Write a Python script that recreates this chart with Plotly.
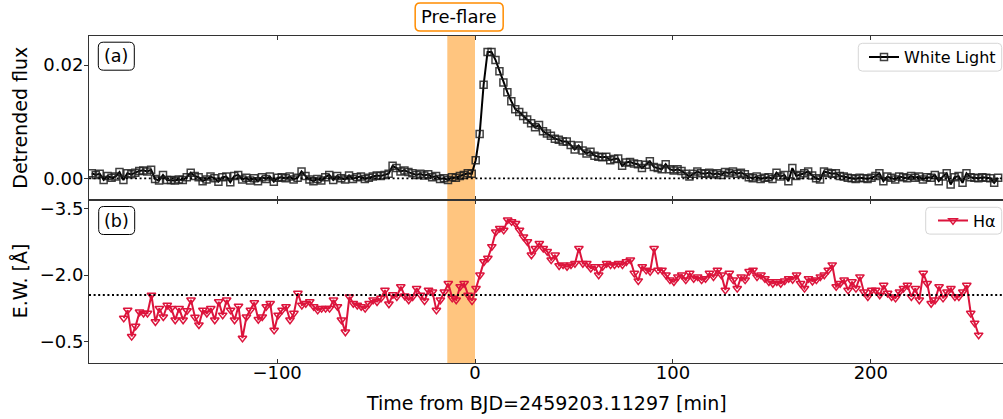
import plotly.graph_objects as go
from plotly.subplots import make_subplots
import numpy as np

# ---------------- data ----------------
wl_t0 = -193.65      # first white-light time [min]
wl_cadence = 2.0     # [min]
# detrended white-light flux, in units of 1e-3
wl_flux_1e3 = [
    0.9, 0.6, 0.8, -0.3, 0.4, 0.1, 0.3, 1.1, -0.3, 0.9,
    0.7, 1.0, 1.3, 1.4, 1.2, 1.5, -0.1, -0.4, 0.6, -0.3,
    -0.3, -0.4, -0.2, -0.3, 0.2, 1.0, 0.4, 0.2, -0.5, -0.2,
    0.3, 0.0, -0.6, 0.2, 0.3, -0.7, 0.4, 0.6, -0.2, 0.1,
    -0.4, 0.0, -0.5, 0.2, -0.1, 0.3, -0.6, 0.1, 0.2, 0.0,
    0.3, -0.2, 0.1, 1.2, 0.4, -0.2, -0.5, -0.1, -0.4, 0.2,
    0.6, -0.3, 0.4, 0.0, -0.2, 0.5, -0.1, 0.2, 0.3, -0.1,
    0.1, 0.3, 0.5, 0.4, 0.6, 0.8, 2.2, 1.8, 1.2, 1.4,
    1.1, 0.9, 0.6, 0.8, 0.5, 0.7, 0.2, 0.4, -0.1, 0.0,
    -0.3, 0.2, 0.1, 0.4, 0.6, 0.9, 0.8,
    3.2, 7.8, 16.5, 22.3, 22.3, 20.9, 18.9, 16.9, 15.2, 13.6,
    12.2, 11.7, 11.0, 10.4, 9.7, 9.0, 9.4, 8.3, 7.9, 7.5,
    7.0, 6.8, 6.5, 6.5, 5.9, 5.1, 5.8, 4.9, 4.4, 4.7,
    4.0, 3.8, 3.7, 3.8, 3.2, 3.4, 3.5, 2.2, 2.8, 2.9,
    2.6, 2.5, 1.8, 2.4, 3.0, 2.0, 1.8, 1.6, 2.5, 1.6,
    1.4, 1.6, 1.3, 0.8, 0.3, 0.8, 1.2,
    0.9, 0.8, 1.0, 0.7, 0.9, 0.6, 1.1, 0.9, 1.2, 0.8,
    1.0, 0.7, 0.2, 0.0, 0.3, -0.1, 0.1, 0.2, -0.1, 1.0,
    0.3, 0.6, -0.5, 1.8, 0.4, 0.6, 0.9, 1.2, 0.5, 0.0,
    -0.2, 1.2, 1.0, 0.8, 0.9, 0.4, 0.3, 0.1, 0.0, -0.1,
    0.1, 0.0, -0.1, 0.1, 0.4, 0.9, -0.5, 0.3, 0.1, -0.2,
    0.3, 0.2, 0.0, 0.4, 0.1, 0.3, -0.2, 0.2, 0.1, 0.6,
    -0.5, 0.3, 0.9, -1.1, 0.2, 0.4, -0.8, 0.9, 0.2, 0.1,
    0.0, 0.2, 0.1, 0.0, -0.8, 0.1,
]

ha_t0 = -177.5       # first H-alpha time [min]
ha_cadence = 2.0     # [min]
# H-alpha equivalent width [Angstrom]
ha_ew = [
    -1.03, -1.21, -0.62, -0.85, -1.17, -1.14, -1.14, -1.55, -0.95, -1.25,
    -1.06, -1.32, -1.25, -0.99, -1.25, -0.99, -1.20, -1.44, -1.05, -0.88,
    -1.21, -1.14, -1.25, -0.99, -1.40, -1.10, -1.44, -1.21, -0.99, -1.30,
    -0.58, -1.06, -1.21, -1.38, -1.00, -1.06, -1.29, -1.36, -0.76, -1.10,
    -1.21, -1.29, -0.99, -1.14, -1.59, -1.32, -1.36, -1.40, -1.29, -1.21,
    -1.25, -1.25, -1.25, -1.44, -1.29, -0.99, -0.72, -1.51, -1.36, -1.32,
    -1.29, -1.25, -1.36, -1.44, -1.40, -1.48, -1.66, -1.35, -1.56, -1.51,
    -1.74, -1.53, -1.44, -1.51, -1.70, -1.55, -1.42, -1.66, -1.62, -1.21,
    -1.44, -1.62, -1.81, -1.48, -1.44, -1.74, -1.81, -1.55, -1.42, -1.70,
    -2.00, -2.30, -2.38, -2.64, -2.97, -3.05, -3.01, -3.24, -3.20, -3.16,
    -3.01, -2.86, -2.75, -2.45, -2.60, -2.71, -2.60, -2.53, -2.34, -2.45,
    -2.21, -2.23, -2.19, -2.23, -2.26, -2.60, -2.26, -2.26, -2.15, -2.19,
    -2.00, -2.19, -2.26, -2.23, -2.23, -2.26, -2.23, -2.30, -2.34, -2.04,
    -1.87, -2.19, -2.11, -2.08, -2.60, -2.11, -2.11, -2.00, -1.89, -1.85,
    -1.96, -2.00, -1.89, -2.04, -1.92, -1.96, -1.89, -1.92, -2.04, -1.96,
    -2.11, -2.00, -1.66, -2.04, -1.89, -1.70, -1.96, -1.89, -2.08, -2.11,
    -1.96, -2.00, -1.92, -1.85, -1.81, -1.85, -1.81, -1.87, -1.92, -1.90,
    -2.00, -1.81, -1.70, -1.92, -1.86, -1.89, -1.96, -2.00, -2.11, -2.23,
    -1.74, -1.81, -1.89, -1.66, -1.85, -1.70, -1.96, -1.62, -1.51, -1.66,
    -1.66, -1.55, -1.77, -1.59, -1.51, -1.48, -1.62, -1.70, -1.77, -1.51,
    -1.70, -1.44, -2.04, -1.81, -1.36, -1.44, -1.74, -1.48, -1.62, -1.70,
    -1.51, -1.51, -1.62, -1.77, -1.14, -0.92, -0.65,
]

preflare_start, preflare_end = -14.0, 0.0
wl_baseline = 0.0
ha_baseline = -1.55

x_ticks = [-100, 0, 100, 200]
x_ticktext = ["\u2212100", "0", "100", "200"]
y1_ticks = [0.0, 0.02]
y1_ticktext = ["0.00", "0.02"]
y2_ticks = [-3.5, -2.0, -0.5]
y2_ticktext = ["\u22123.5", "\u22122.0", "\u22120.5"]

wl_t = wl_t0 + wl_cadence * np.arange(len(wl_flux_1e3))
wl_flux = np.array(wl_flux_1e3) * 1e-3
ha_t = ha_t0 + ha_cadence * np.arange(len(ha_ew))

# ---------------- figure ----------------
FONT = "DejaVu Sans"
W, H = 1003, 419
ML, MR, MT, MB = 89, 0, 36, 56
PW = W - ML - MR
PH = H - MT - MB

fig = make_subplots(rows=2, cols=1, shared_xaxes=True, vertical_spacing=0)

fig.add_trace(go.Scatter(
    x=wl_t, y=wl_flux, mode="lines+markers", name="White Light",
    line=dict(color="black", width=2),
    marker=dict(symbol="square-open", size=7, color="rgba(30,30,30,0.85)",
                line=dict(width=1.5)),
    legend="legend",
), row=1, col=1)

fig.add_trace(go.Scatter(
    x=ha_t, y=ha_ew, mode="lines+markers", name="H\u03b1",
    line=dict(color="#DC143C", width=2),
    marker=dict(symbol="triangle-down-open", size=7.5, color="#DC143C",
                line=dict(width=1.5)),
    legend="legend2",
), row=2, col=1)


def rrect(hw, hh, r):
    return (f"M {-hw + r},{-hh} L {hw - r},{-hh} Q {hw},{-hh} {hw},{-hh + r} "
            f"L {hw},{hh - r} Q {hw},{hh} {hw - r},{hh} L {-hw + r},{hh} "
            f"Q {-hw},{hh} {-hw},{hh - r} L {-hw},{-hh + r} Q {-hw},{-hh} {-hw + r},{-hh} Z")


def px_x(p):
    return (p - ML) / PW


def px_y(p):
    return (H - MB - p) / PH


shapes = [
    dict(type="rect", xref="x", yref="paper", x0=preflare_start, x1=preflare_end,
         y0=0, y1=1, fillcolor="darkorange", opacity=0.5, line=dict(width=0),
         layer="below"),
    dict(type="line", xref="x domain", yref="y", x0=0, x1=1,
         y0=wl_baseline, y1=wl_baseline,
         line=dict(color="black", width=1.8, dash="2px,2.6px"), layer="above"),
    dict(type="line", xref="x2 domain", yref="y2", x0=0, x1=1,
         y0=ha_baseline, y1=ha_baseline,
         line=dict(color="black", width=1.8, dash="2px,2.6px"), layer="above"),
    # Pre-flare label box
    dict(type="path", xref="x", yref="paper", xsizemode="pixel", ysizemode="pixel",
         xanchor=(preflare_start + preflare_end) / 2 - 1.0, yanchor=px_y(17),
         path=rrect(44, 14, 5), fillcolor="white",
         line=dict(color="darkorange", width=1.5), layer="above"),
    # (a) / (b) boxes
    dict(type="path", xref="paper", yref="paper", xsizemode="pixel", ysizemode="pixel",
         xanchor=px_x(116.3), yanchor=px_y(56.2), path=rrect(18, 14, 5),
         fillcolor="white", line=dict(color="black", width=1), layer="above"),
    dict(type="path", xref="paper", yref="paper", xsizemode="pixel", ysizemode="pixel",
         xanchor=px_x(116.7), yanchor=px_y(220.5), path=rrect(18, 14, 5),
         fillcolor="white", line=dict(color="black", width=1), layer="above"),
    # legend frames
    dict(type="path", xref="paper", yref="paper", xsizemode="pixel", ysizemode="pixel",
         xanchor=px_x(930.0), yanchor=px_y(57.2), path=rrect(71.7, 13.9, 4),
         fillcolor="rgba(255,255,255,0.8)", line=dict(color="#d6d6d6", width=1),
         layer="above"),
    dict(type="path", xref="paper", yref="paper", xsizemode="pixel", ysizemode="pixel",
         xanchor=px_x(963.7), yanchor=px_y(220.7), path=rrect(38, 13.4, 4),
         fillcolor="rgba(255,255,255,0.8)", line=dict(color="#d6d6d6", width=1),
         layer="above"),
]

annotations = [
    dict(text="Pre-flare", xref="x", yref="paper",
         x=(preflare_start + preflare_end) / 2 - 1.0, y=px_y(17),
         showarrow=False, font=dict(family=FONT, size=18, color="black"),
         xanchor="center", yanchor="middle"),
    dict(text="(a)", xref="paper", yref="paper", x=px_x(116.3), y=px_y(56.2),
         showarrow=False, font=dict(family=FONT, size=17.5, color="black"),
         xanchor="center", yanchor="middle"),
    dict(text="(b)", xref="paper", yref="paper", x=px_x(116.7), y=px_y(220.5),
         showarrow=False, font=dict(family=FONT, size=17.5, color="black"),
         xanchor="center", yanchor="middle"),
    dict(text="Detrended flux", xref="paper", yref="paper", x=0, y=0.75,
         xshift=-(ML - 20), textangle=-90, showarrow=False,
         font=dict(family=FONT, size=19, color="black"),
         xanchor="center", yanchor="middle"),
    dict(text="E.W. [\u00c5]", xref="paper", yref="paper", x=0, y=0.25,
         xshift=-(ML - 20), textangle=-90, showarrow=False,
         font=dict(family=FONT, size=19, color="black"),
         xanchor="center", yanchor="middle"),
    dict(text="Time from BJD=2459203.11297 [min]", xref="paper", yref="paper",
         x=0.5, y=0, yshift=-40, showarrow=False,
         font=dict(family=FONT, size=19, color="black"),
         xanchor="center", yanchor="middle"),
]

axis_common = dict(showgrid=False, zeroline=False, showline=True,
                   linecolor="#333333", linewidth=1,
                   tickfont=dict(family=FONT, size=18, color="black"),
                   tickcolor="#333333", ticklen=4, tickwidth=1)

fig.update_layout(
    width=W, height=H,
    margin=dict(l=ML, r=MR, t=MT, b=MB, pad=0),
    paper_bgcolor="white", plot_bgcolor="white",
    font=dict(family=FONT, size=16, color="black"),
    shapes=shapes, annotations=annotations,
    legend=dict(x=px_x(1001.0), y=px_y(57.2), xanchor="right", yanchor="middle",
                bgcolor="rgba(0,0,0,0)", borderwidth=0,
                font=dict(family=FONT, size=16, color="black")),
    legend2=dict(x=px_x(1001.0), y=px_y(220.7), xanchor="right", yanchor="middle",
                 bgcolor="rgba(0,0,0,0)", borderwidth=0,
                 font=dict(family=FONT, size=16, color="black")),
    showlegend=True,
)

xr = [-195.05, 266.8]
fig.update_xaxes(range=xr, tickvals=x_ticks, ticktext=x_ticktext,
                 ticks="inside", mirror="ticks", ticklabelstandoff=-7,
                 **axis_common)
fig.update_xaxes(showticklabels=False, row=1, col=1)
fig.update_yaxes(ticks="outside", mirror=False, ticklabelstandoff=-3,
                 **axis_common)
fig.update_yaxes(range=[-0.00374, 0.02512], tickvals=y1_ticks,
                 ticktext=y1_ticktext, row=1, col=1)
fig.update_yaxes(range=[-0.021, -3.698], tickvals=y2_ticks,
                 ticktext=y2_ticktext, row=2, col=1)

fig.write_html("out.html")
